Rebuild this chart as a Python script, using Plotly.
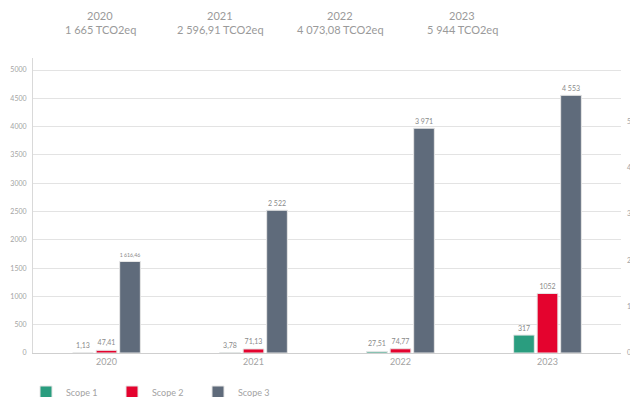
import plotly.graph_objects as go

years = ["2020", "2021", "2022", "2023"]
totals = ["1 665 TCO2eq", "2 596,91 TCO2eq", "4 073,08 TCO2eq", "5 944 TCO2eq"]
scope1 = [1.13, 3.78, 27.51, 317]
scope2 = [47.41, 71.13, 74.77, 1052]
scope3 = [1616.46, 2522, 3971, 4553]
scope1_lbl = ["1,13", "3,78", "27,51", "317"]
scope2_lbl = ["47,41", "71,13", "74,77", "1052"]
scope3_lbl = ["1 616,46", "2 522", "3 971", "4 553"]
left_ticks = list(range(0, 5001, 500))
right_ticks = [0, 1, 2, 3, 4, 5]

W, H = 630, 397
ML, MR, MT, MB = 33, 9, 58, 44
PH = H - MT - MB
PW = W - ML - MR
GRAY = "#a3a3a3"
FONT = "Lato"

fig = go.Figure()
series = [
    ("Scope 1", scope1, scope1_lbl, "#2a9d7f"),
    ("Scope 2", scope2, scope2_lbl, "#e4032e"),
    ("Scope 3", scope3, scope3_lbl, "#5f6b7b"),
]
for name, vals, lbl, col in series:
    fig.add_trace(go.Bar(
        x=years, y=vals, name=name, text=lbl, textposition="outside",
        textfont=dict(size=7, color="#8a8a8a", family=FONT),
        cliponaxis=False,
        marker=dict(color=col, line=dict(color="#e6e6e6", width=1)),
    ))
# empty trace so the secondary (right) axis is drawn
fig.add_trace(go.Scatter(x=[], y=[], yaxis="y2", showlegend=False, hoverinfo="skip"))

fig.update_layout(
    width=W, height=H,
    margin=dict(l=ML, r=MR, t=MT, b=MB, autoexpand=False),
    paper_bgcolor="white", plot_bgcolor="white",
    barmode="group", bargap=0.52, bargroupgap=0.12,
    font=dict(family=FONT, color=GRAY, size=8),
    xaxis=dict(showgrid=False, showline=True, linecolor="#cfcfcf", linewidth=1,
               tickfont=dict(size=9, color=GRAY), ticks="", automargin=False),
    yaxis=dict(range=[0, 5212], tickvals=left_ticks, showgrid=True,
               gridcolor="#e3e3e3", gridwidth=1, zeroline=False,
               showline=True, linecolor="#d9d9d9", linewidth=1,
               tickfont=dict(size=7, color=GRAY), ticks="", ticklabelstandoff=4,
               automargin=False),
    yaxis2=dict(range=[0, 6.36], tickvals=right_ticks, overlaying="y", side="right",
                showgrid=False, zeroline=False, showline=False, automargin=False,
                tickfont=dict(size=7, color=GRAY), ticks="", ticklabelstandoff=5),
    legend=dict(orientation="h", x=26 / W, y=5 / H, xref="container", yref="container",
                xanchor="left", yanchor="middle",
                font=dict(size=9, color=GRAY), traceorder="normal",
                entrywidth=41),
    showlegend=True,
)

hx = [100, 220, 340, 462]
for x, yr, tot in zip(hx, years, totals):
    for txt, yy in ((yr, 15), (tot, 29)):
        fig.add_annotation(x=(x - ML) / PW, y=(H - MB - yy) / PH,
                           xref="paper", yref="paper",
                           text=txt, showarrow=False,
                           xanchor="center", yanchor="middle",
                           font=dict(size=11, color="#9a9a9a", family=FONT))

fig.write_html("out.html")
